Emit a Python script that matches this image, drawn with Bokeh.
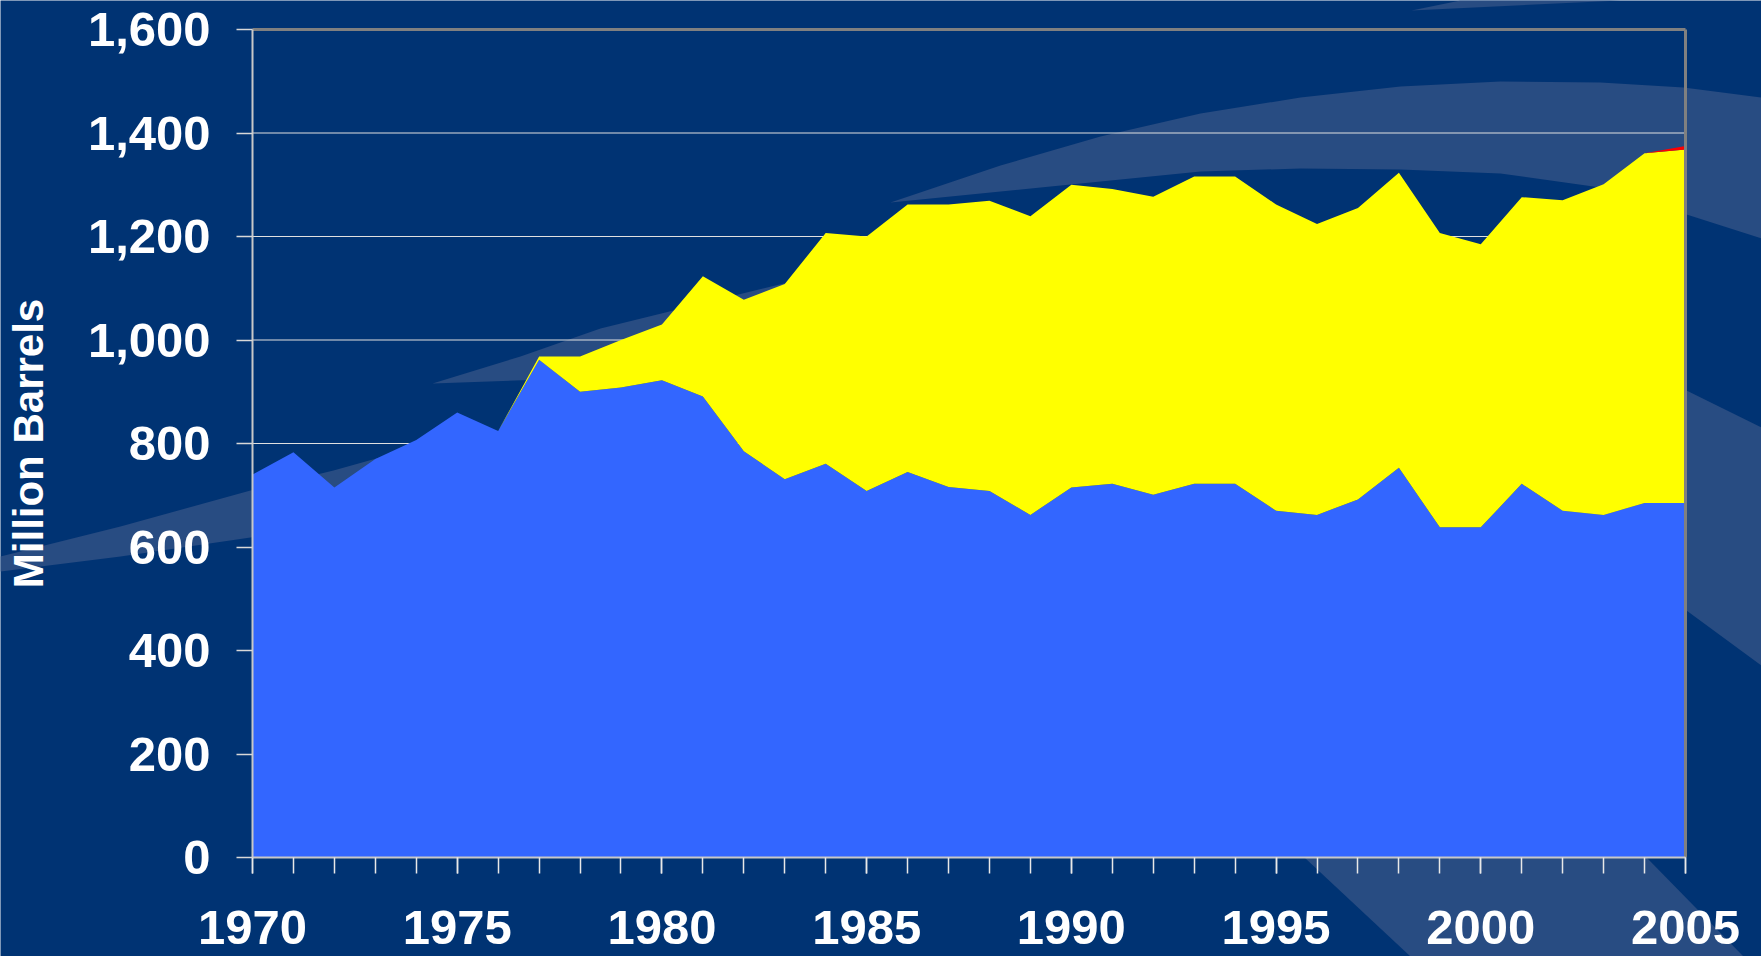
from bokeh.plotting import figure
from bokeh.models import (Range1d, FixedTicker, NumeralTickFormatter,
                          ColumnDataSource)
from bokeh.embed import file_html
from bokeh.resources import INLINE

# ---------------- data ----------------
years = list(range(1970, 2006))
series_blue = [740, 783, 715, 770, 807, 860, 824, 962, 900, 908,
               922, 891, 785, 731, 761, 708, 745, 716, 708, 662,
               715, 722, 701, 722, 722, 670, 662, 692, 753, 638,
               638, 722, 670, 662, 685, 685]
series_yellow = [0, 0, 0, 0, 0, 0, 0, 6, 68, 92,
                 108, 232, 293, 377, 446, 492, 517, 546, 561, 577,
                 585, 570, 576, 594, 594, 592, 562, 563, 570, 569,
                 547, 554, 600, 639, 676, 683]
series_red = [0, 0, 0, 0, 0, 0, 0, 0, 0, 0,
              0, 0, 0, 0, 0, 0, 0, 0, 0, 0,
              0, 0, 0, 0, 0, 0, 0, 0, 0, 0,
              0, 0, 0, 0, 0, 7]
x_tick_labels = [1970, 1975, 1980, 1985, 1990, 1995, 2000, 2005]
y_ticks = [0, 200, 400, 600, 800, 1000, 1200, 1400, 1600]
y_label = "Million Barrels"

# ---------------- layout / style ----------------
NAVY = "#003373"
SWOOSH = "#284C82"
FONT = "Liberation Sans"
W, H = 1761, 956
X0, X1 = 1970, 2005          # x extent of the plot box
Y0, Y1 = 0, 1600             # y extent of the plot box
BOX_L, BOX_R, BOX_T, BOX_B = 252, 1685, 29, 857   # plot box in page pixels

xpp = (X1 - X0) / (BOX_R - BOX_L)
ypp = (Y1 - Y0) / (BOX_B - BOX_T)
x_range = Range1d(X0 - BOX_L * xpp, X1 + (W - BOX_R) * xpp)
y_range = Range1d(Y0 - (H - BOX_B) * ypp, Y1 + BOX_T * ypp)

p = figure(width=W, height=H, output_backend="svg", toolbar_location=None,
           title=None, x_range=x_range, y_range=y_range, min_border=0,
           background_fill_color=NAVY, border_fill_color=NAVY,
           outline_line_color=None)
p.extra_x_ranges = {"px": Range1d(0, W)}
p.extra_y_ranges = {"px": Range1d(H, 0)}

# ---------- decorative background swooshes (page pixel outlines) ----------
swooshes = [
    [(0, 556), (120, 526), (250, 490), (333, 470), (383, 456), (450, 442),
     (520, 432), (520, 480), (400, 500), (250, 537), (120, 556), (0, 571)],
    [(432, 383), (520, 356), (600, 328), (742, 293), (900, 255),
     (900, 330), (750, 355), (600, 377)],
    [(890, 202), (1000, 165), (1100, 136), (1200, 113), (1300, 97),
     (1400, 86), (1500, 81), (1600, 82), (1683, 87), (1761, 97),
     (1761, 238), (1683, 213), (1600, 187), (1500, 173), (1400, 169),
     (1300, 168), (1200, 171), (1050, 186)],
    [(1560, 340), (1686, 390), (1761, 427), (1761, 665), (1686, 610),
     (1560, 520)],
    [(1200, 760), (1305, 858), (1410, 956), (1743, 956), (1647, 858),
     (1550, 760)],
    [(1411, 10), (1460, 0), (1620, 0)],
]
p.patches(xs=[[q[0] for q in s] for s in swooshes],
          ys=[[q[1] for q in s] for s in swooshes],
          x_range_name="px", y_range_name="px",
          fill_color=SWOOSH, line_color=None, level="image")

# ---------- grid lines inside the plot box ----------
grid_vals = y_ticks[1:-1]
p.segment(x0=[X0] * len(grid_vals), x1=[X1] * len(grid_vals),
          y0=grid_vals, y1=grid_vals,
          line_color="#E0E0E0", line_width=1, level="underlay")

# ---------- stacked areas ----------
src = ColumnDataSource(dict(year=years, blue=series_blue,
                            yellow=series_yellow, red=series_red))
p.varea_stack(["blue", "yellow", "red"], x="year",
              color=["#3366FF", "#FFFF00", "#FF0000"], source=src)

# top and right border of the plot box (over the areas)
p.segment(x0=[X0, X1], y0=[Y1, Y0], x1=[X1, X1], y1=[Y1, Y1],
          line_color="#808080", line_width=3)

p.grid.visible = False

# ---------- x axis ----------
xa = p.xaxis[0]
xa.fixed_location = Y0
xa.bounds = (X0, X1)
xa.ticker = FixedTicker(ticks=x_tick_labels, minor_ticks=years)
xa.axis_line_color = "#C8C8C8"
xa.axis_line_width = 2
xa.major_tick_in = 0
xa.major_tick_out = 16
xa.minor_tick_in = 0
xa.minor_tick_out = 16
xa.major_tick_line_color = "#E8E8E8"
xa.minor_tick_line_color = "#E8E8E8"
xa.major_tick_line_width = 1.5
xa.minor_tick_line_width = 1.5
xa.major_label_standoff = 37
xa.major_label_text_font = FONT
xa.major_label_text_font_style = "bold"
xa.major_label_text_font_size = "49px"
xa.major_label_text_color = "white"

# ---------- y axis ----------
ya = p.yaxis[0]
ya.fixed_location = X0
ya.bounds = (Y0, Y1)
ya.ticker = FixedTicker(ticks=y_ticks, minor_ticks=[])
ya.formatter = NumeralTickFormatter(format="0,0")
ya.axis_line_color = "#C8C8C8"
ya.axis_line_width = 2
ya.major_tick_in = 0
ya.major_tick_out = 16
ya.minor_tick_line_color = None
ya.major_tick_line_color = "#D8D8D8"
ya.major_tick_line_width = 1.5
ya.major_label_standoff = 26
ya.major_label_text_font = FONT
ya.major_label_text_font_style = "bold"
ya.major_label_text_font_size = "49px"
ya.major_label_text_color = "white"
ya.axis_label = y_label
ya.axis_label_standoff = 33
ya.axis_label_text_font = FONT
ya.axis_label_text_font_style = "bold"
ya.axis_label_text_font_size = "42px"
ya.axis_label_text_color = "white"

open("out.html", "w").write(file_html(p, INLINE))
